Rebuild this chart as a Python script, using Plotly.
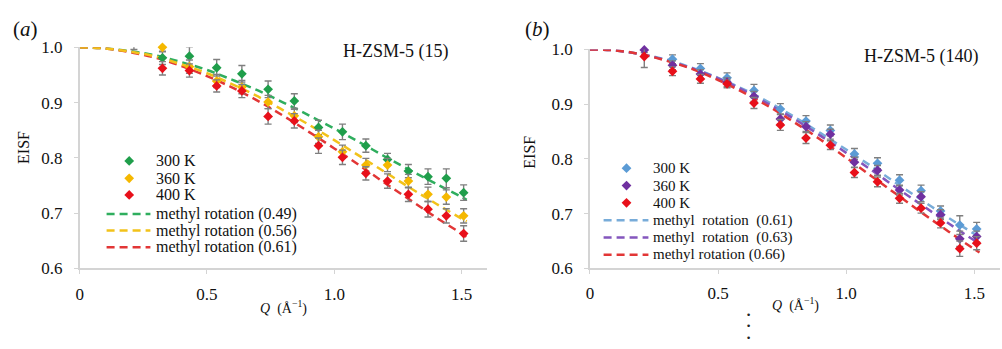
import plotly.graph_objects as go

# ---------------- data ----------------
# (a) H-ZSM-5 (15)
q_a = [0.213, 0.325, 0.431, 0.538, 0.637, 0.740, 0.843, 0.938, 1.032, 1.124, 1.209, 1.291, 1.368, 1.440, 1.508]
eisf_300_a = [None, 0.981, 0.984, 0.963, 0.952, 0.924, 0.903, 0.855, 0.847, 0.822, 0.797, 0.776, 0.766, 0.763, 0.737]
eisf_360_a = [None, 1.000, 0.965, 0.939, 0.928, 0.901, 0.876, 0.838, 0.811, 0.787, 0.787, 0.758, 0.734, 0.729, 0.695]
eisf_400_a = [1.002, 0.962, 0.958, 0.930, 0.921, 0.875, 0.867, 0.822, 0.801, 0.772, 0.758, 0.734, 0.707, 0.695, 0.663]
err_300_a = [None, 0.012, 0.017, 0.015, 0.015, 0.015, 0.013, 0.013, 0.014, 0.012, 0.011, 0.012, 0.014, 0.017, 0.014]
err_360_a = [None, 0.008, 0.012, 0.012, 0.012, 0.012, 0.012, 0.012, 0.012, 0.012, 0.012, 0.012, 0.013, 0.013, 0.013]
err_400_a = [0.006, 0.012, 0.012, 0.011, 0.012, 0.014, 0.013, 0.014, 0.013, 0.012, 0.013, 0.013, 0.014, 0.013, 0.014]

# (b) H-ZSM-5 (140)
q_b = [0.212, 0.322, 0.431, 0.535, 0.640, 0.743, 0.843, 0.938, 1.032, 1.122, 1.208, 1.292, 1.368, 1.443, 1.509]
eisf_300_b = [None, 0.982, 0.965, 0.948, 0.925, 0.891, 0.869, 0.852, 0.809, 0.792, 0.761, 0.742, 0.705, 0.679, 0.672]
eisf_360_b = [0.999, 0.971, 0.955, 0.940, 0.914, 0.873, 0.859, 0.845, 0.794, 0.779, 0.743, 0.731, 0.698, 0.654, 0.658]
eisf_400_b = [0.987, 0.960, 0.946, 0.937, 0.902, 0.862, 0.838, 0.825, 0.775, 0.758, 0.728, 0.710, 0.683, 0.636, 0.646]
err_300_b = [None, 0.008, 0.009, 0.009, 0.011, 0.010, 0.010, 0.010, 0.010, 0.010, 0.010, 0.010, 0.009, 0.017, 0.012]
err_360_b = [0.005, 0.008, 0.008, 0.008, 0.009, 0.009, 0.009, 0.009, 0.009, 0.009, 0.009, 0.009, 0.009, 0.014, 0.010]
err_400_b = [0.020, 0.008, 0.008, 0.007, 0.010, 0.010, 0.010, 0.008, 0.009, 0.009, 0.009, 0.009, 0.009, 0.014, 0.012]

# methyl-rotation fits
q_fit = [0.0, 0.1, 0.2, 0.3, 0.4, 0.5, 0.6, 0.7, 0.8, 0.9, 1.0, 1.1, 1.2, 1.3, 1.4, 1.5, 1.52]
fit_049 = [1.000, 0.998, 0.993, 0.985, 0.973, 0.959, 0.941, 0.922, 0.900, 0.877, 0.853, 0.828, 0.802, 0.777, 0.753, 0.729, 0.724]
fit_056 = [1.000, 0.998, 0.992, 0.983, 0.969, 0.953, 0.933, 0.911, 0.886, 0.860, 0.832, 0.803, 0.774, 0.745, 0.717, 0.690, 0.685]
fit_061 = [1.000, 0.998, 0.991, 0.981, 0.966, 0.948, 0.927, 0.903, 0.876, 0.847, 0.817, 0.786, 0.754, 0.723, 0.692, 0.663, 0.657]
fit_063 = [1.000, 0.998, 0.991, 0.980, 0.965, 0.947, 0.925, 0.899, 0.872, 0.842, 0.811, 0.779, 0.746, 0.714, 0.682, 0.651, 0.646]
fit_066 = [1.000, 0.998, 0.991, 0.979, 0.964, 0.944, 0.921, 0.895, 0.866, 0.835, 0.802, 0.768, 0.734, 0.700, 0.667, 0.635, 0.629]

x_ticks = [0, 0.5, 1.0, 1.5]
x_ticktext = ["0", "0.5", "1.0", "1.5"]
y_ticks = [0.6, 0.7, 0.8, 0.9, 1.0]
y_ticktext = ["0.6", "0.7", "0.8", "0.9", "1.0"]

# ---------------- styling ----------------
W, H = 1002, 349
SERIF = "Liberation Serif"
GREEN, YELLOW, RED = "#1f9e4b", "#f5b800", "#e8101a"
GREEN_L, YELLOW_L, RED_L = "#2fae5e", "#f2c21a", "#e23636"
BLUE, PURPLE = "#5b9bd5", "#7030a0"
BLUE_L, PURPLE_L = "#78acd9", "#8456bd"
ERR = "#7f7f7f"
DASH = "8px,5px"
MSIZE = 7.5


def fx(px):
    return px / W


def fy(py):
    return 1 - py / H


fig = go.Figure()


def add_fit(q, y, color, xa, ya):
    fig.add_trace(go.Scatter(
        x=q, y=y, mode="lines", line=dict(color=color, width=2.5, dash=DASH, shape="spline"),
        xaxis=xa, yaxis=ya, showlegend=False, hoverinfo="skip", cliponaxis=False))


def add_points(q, y, err, color, xa, ya):
    fig.add_trace(go.Scatter(
        x=q, y=y, mode="markers",
        marker=dict(symbol="diamond", size=MSIZE, color=color),
        error_y=dict(type="data", array=err, color=ERR, thickness=1.4, width=3.5),
        xaxis=xa, yaxis=ya, showlegend=False, cliponaxis=False))


# panel (a)
add_fit(q_fit, fit_049, GREEN_L, "x", "y")
add_fit(q_fit, fit_061, RED_L, "x", "y")
add_fit(q_fit, fit_056, YELLOW_L, "x", "y")
add_points(q_a, eisf_300_a, err_300_a, GREEN, "x", "y")
add_points(q_a, eisf_360_a, err_360_a, YELLOW, "x", "y")
add_points(q_a, eisf_400_a, err_400_a, RED, "x", "y")

# panel (b)
add_fit(q_fit, fit_061, BLUE_L, "x2", "y2")
add_fit(q_fit, fit_063, PURPLE_L, "x2", "y2")
add_fit(q_fit, fit_066, RED_L, "x2", "y2")
add_points(q_b, eisf_300_b, err_300_b, BLUE, "x2", "y2")
add_points(q_b, eisf_360_b, err_360_b, PURPLE, "x2", "y2")
add_points(q_b, eisf_400_b, err_400_b, RED, "x2", "y2")

axis_common = dict(
    showline=True, linecolor="#d4d4d4", linewidth=1.5,
    ticks="outside", tickcolor="#d4d4d4", ticklen=4, tickwidth=1.2,
    showgrid=False, zeroline=False,
    tickfont=dict(family=SERIF, size=17, color="#111"),
)

fig.update_layout(
    width=W, height=H, margin=dict(l=0, r=0, t=0, b=0),
    paper_bgcolor="white", plot_bgcolor="white", showlegend=False,
    font=dict(family=SERIF, color="#111"),
    xaxis=dict(domain=[fx(76), fx(485)], range=[0, 1.6], tickvals=x_ticks, ticktext=x_ticktext,
               anchor="y", ticklabelstandoff=5, **axis_common),
    yaxis=dict(domain=[fy(274.3), fy(40.5)], range=[0.6, 1.0], tickvals=y_ticks, ticktext=y_ticktext,
               anchor="x", ticklabelstandoff=8, **axis_common),
    xaxis2=dict(domain=[fx(588.3), fx(1000)], range=[0, 1.6], tickvals=x_ticks, ticktext=x_ticktext,
                anchor="y2", ticklabelstandoff=4, **axis_common),
    yaxis2=dict(domain=[fy(274.3), fy(42.7)], range=[0.6, 1.0], tickvals=y_ticks, ticktext=y_ticktext,
                anchor="x2", ticklabelstandoff=8, **axis_common),
)

annotations = []
shapes = []


def text(px, py, s, size, xanchor="center", yanchor="middle", angle=0):
    annotations.append(dict(
        x=fx(px), y=fy(py), xref="paper", yref="paper", text=s, showarrow=False,
        xanchor=xanchor, yanchor=yanchor, textangle=angle,
        font=dict(family=SERIF, size=size, color="#111")))


# panel labels, sample names, axis titles
text(22, 21, "(<i>a</i>)", 21)
text(536, 21, "(<i>b</i>)", 21)
text(394, 45, "H-ZSM-5 (15)", 18)
text(921, 50, "H-ZSM-5 (140)", 18)
text(19, 146, "EISF", 16, angle=-90)
text(528, 151, "EISF", 16, angle=-90)
text(281, 316, "<i>Q</i>  (Å<sup>−1</sup>)", 14)
text(795, 313, "<i>Q</i>  (Å<sup>−1</sup>)", 14)

# vertical ellipsis under panel (b)
annotations.append(dict(
    x=fx(747), y=fy(336), xref="paper", yref="paper", text="•<br>•<br>•", showarrow=False,
    xanchor="center", yanchor="middle", font=dict(family="DejaVu Sans", size=8.8, color="#222")))


def legend(x_mark, x_d0, x_d1, x_text, rows, entries, size):
    for py, (kind, color, label) in zip(rows, entries):
        if kind == "marker":
            r = MSIZE * 0.65
            shapes.append(dict(
                type="path", xref="paper", yref="paper", xsizemode="pixel", ysizemode="pixel",
                xanchor=fx(x_mark), yanchor=fy(py),
                path=f"M0,{r} L{r},0 L0,{-r} L{-r},0 Z",
                fillcolor=color, line=dict(width=0)))
        else:
            shapes.append(dict(
                type="line", xref="paper", yref="paper", x0=fx(x_d0), x1=fx(x_d1), y0=fy(py), y1=fy(py),
                line=dict(color=color, width=2.5, dash=DASH)))
        text(x_text, py, label, size, xanchor="left")


legend(125.7, 103, 147, 151,
       [160.7, 179, 196.7, 216.7, 234.3, 252],
       [("marker", GREEN, "300 K"), ("marker", YELLOW, "360 K"), ("marker", RED, "400 K"),
        ("line", GREEN_L, "methyl rotation (0.49)"),
        ("line", YELLOW_L, "methyl rotation (0.56)"),
        ("line", RED_L, "methyl rotation (0.61)")], 16)

legend(625, 602, 647, 650,
       [168.3, 186.7, 205, 223.3, 241.7, 260],
       [("marker", BLUE, "300 K"), ("marker", PURPLE, "360 K"), ("marker", RED, "400 K"),
        ("line", BLUE_L, "methyl\u00a0 rotation\u00a0 (0.61)"),
        ("line", PURPLE_L, "methyl\u00a0 rotation\u00a0 (0.63)"),
        ("line", RED_L, "methyl rotation (0.66)")], 15)

fig.update_layout(annotations=annotations, shapes=shapes)
fig.write_html("out.html")
